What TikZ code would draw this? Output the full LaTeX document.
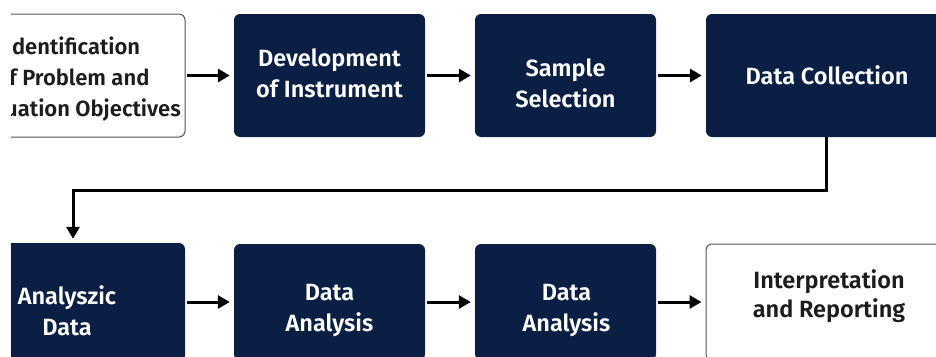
\documentclass[tikz,border=0pt]{standalone}
\usepackage{fontspec}
\setmainfont{Fira Sans}[UprightFont={* SemiBold}]
\usetikzlibrary{positioning,calc,arrows.meta}

\definecolor{navy}{HTML}{0B1F45}
\definecolor{rim}{HTML}{50555F}
\definecolor{ink}{HTML}{1C1C1C}

\tikzset{
  darkbox/.style={draw=none, fill=navy, rounded corners=6pt, minimum height=123pt, inner sep=0pt},
  litebox/.style={draw=rim, line width=1pt, fill=white, rounded corners=6pt, minimum height=123pt, inner sep=0pt},
  boxtxt/.style={align=center, inner sep=0pt, font=\fontsize{23.5}{31}\selectfont},
  flow/.style={-{Triangle[length=12pt,width=13pt]}, line width=3pt, shorten >=4pt, shorten <=1.5pt},
}

\begin{document}
\begin{tikzpicture}[x=1pt,y=-1pt]
    \useasboundingbox (0,0) rectangle (936,356);
    \clip (11,0) rectangle (936,356);

    % top row
    \node [litebox, minimum width=220pt] (ident) at (75,75.5) {};
    \node [darkbox, minimum width=191pt] (dev) at (329.5,75.5) {};
    \node [darkbox, minimum width=181pt] (sample) at (565.5,75.5) {};
    \node [darkbox, minimum width=242pt] (coll) at (827,75.5) {};

    % bottom row (cut by the lower edge)
    \node [darkbox, minimum width=236pt, minimum height=118pt] (anl) at (67,302) {};
    \node [darkbox, minimum width=191pt, minimum height=116pt] (ana1) at (329.5,302) {};
    \node [darkbox, minimum width=181pt, minimum height=116pt] (ana2) at (565.5,302) {};
    \node [litebox, minimum width=246pt, minimum height=116pt] (interp) at (829,302) {};

    % texts
    \node [boxtxt, text=ink, anchor=east, font=\fontsize{22}{31}\selectfont] (identtxt) at (181,79) {Identification\\of Problem and\\Evaluation Objectives};
    \node [boxtxt, text=white] (devtxt) at (329.5,73) {Development\\of Instrument};
    \node [boxtxt, text=white] (sampletxt) at (565.5,83) {Sample\\Selection};
    \node [boxtxt, text=white] (colltxt) at (827,75) {Data Collection};
    \node [boxtxt, text=white] (anltxt) at (67,311) {Analyszic\\Data};
    \node [boxtxt, text=white] (ana1txt) at (329.5,310.5) {Data\\Analysis};
    \node [boxtxt, text=white] (ana2txt) at (566.5,310.5) {Data\\Analysis};
    \node [boxtxt, text=ink, font=\fontsize{23.5}{29}\selectfont] (interptxt) at (829,296) {Interpretation\\and Reporting};

    % connectors
    \draw [flow] (ident) -- (dev);
    \draw [flow] (dev) -- (sample);
    \draw [flow] (sample) -- (coll);
    \draw [flow, shorten <=0pt] ([xshift=-1pt]coll.south) -- ++(0,53) -| ([xshift=6pt]anl.north);
    \draw [flow] (anl.east |- ana1) -- (ana1);
    \draw [flow] (ana1) -- (ana2);
    \draw [flow] (ana2) -- (interp);
\end{tikzpicture}
\end{document}
